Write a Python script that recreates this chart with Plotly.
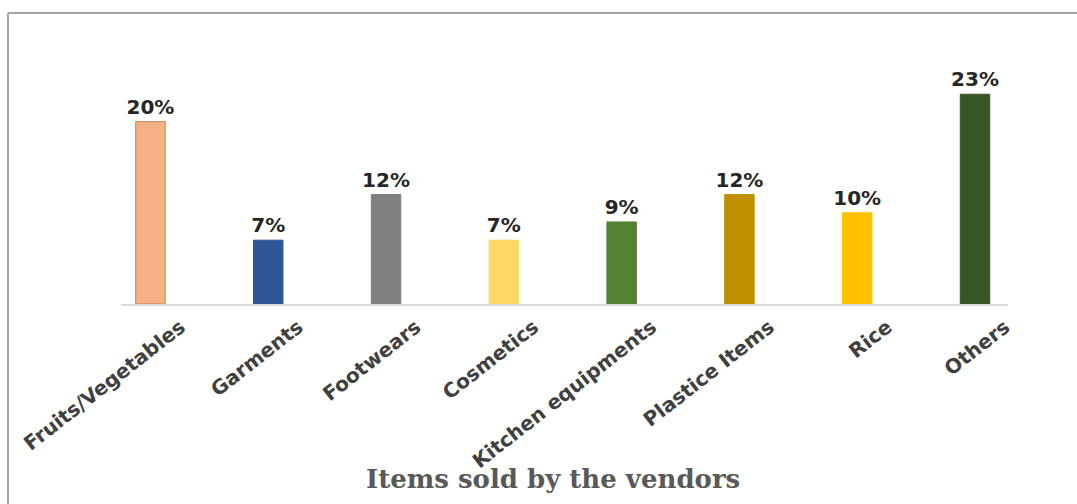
import plotly.graph_objects as go

# Share of vendors by item category
categories = ["Fruits/Vegetables", "Garments", "Footwears", "Cosmetics",
              "Kitchen equipments", "Plastice Items", "Rice", "Others"]
shares = [20, 7, 12, 7, 9, 12, 10, 23]
labels = [f"{v}%" for v in shares]
bar_colors = ["#F4B183", "#2F5597", "#7F7F7F", "#FFD966",
              "#548235", "#BF9000", "#FFC000", "#375623"]
outline_colors = ["#C0835A", "#2F5597", "#7F7F7F", "#FFD966",
                  "#548235", "#BF9000", "#FFC000", "#375623"]

W, H = 1077, 504
L, R, T, B = 121, 69, 76, 200
pw, ph = W - L - R, H - T - B

def px_x(x):
    return (x - L) / pw

def px_y(y):
    return (H - B - y) / ph

fig = go.Figure(go.Bar(
    x=categories,
    y=shares,
    width=0.25,
    marker=dict(color=bar_colors, line=dict(color=outline_colors, width=1)),
    text=labels,
    textposition="outside",
    constraintext="none",
    cliponaxis=False,
    textfont=dict(family="DejaVu Sans", size=20, color="#262626", weight="bold"),
))

fig.update_layout(
    width=W, height=H,
    margin=dict(l=L, r=R, t=T, b=B, pad=0, autoexpand=False),
    paper_bgcolor="white",
    plot_bgcolor="white",
    showlegend=False,
    bargap=0.75,
    xaxis=dict(
        range=[-0.25, 7.28],
        automargin=False,
        showline=True, linecolor="#D9D9D9", linewidth=1.5,
        showgrid=False, ticks="",
        tickangle=-38,
        ticklabelshift=30,
        ticklabelstandoff=2,
        tickfont=dict(family="DejaVu Sans", size=20, color="#404040", weight="bold"),
    ),
    yaxis=dict(
        range=[0, 25], visible=False, showgrid=False, automargin=False,
    ),
    shapes=[
        # outer chart frame (top and left edges)
        dict(type="line", xref="paper", yref="paper",
             x0=px_x(8), x1=px_x(1090), y0=px_y(13), y1=px_y(13),
             line=dict(color="#A6A6A6", width=2)),
        dict(type="line", xref="paper", yref="paper",
             x0=px_x(8), x1=px_x(8), y0=px_y(13), y1=px_y(520),
             line=dict(color="#A6A6A6", width=2)),
    ],
    annotations=[
        dict(text="Items sold by the vendors", xref="paper", yref="paper",
             x=px_x(553), y=px_y(479), xanchor="center", yanchor="middle",
             showarrow=False,
             font=dict(family="DejaVu Serif", size=26, color="#595959", weight="bold")),
    ],
)

fig.write_html("out.html")
